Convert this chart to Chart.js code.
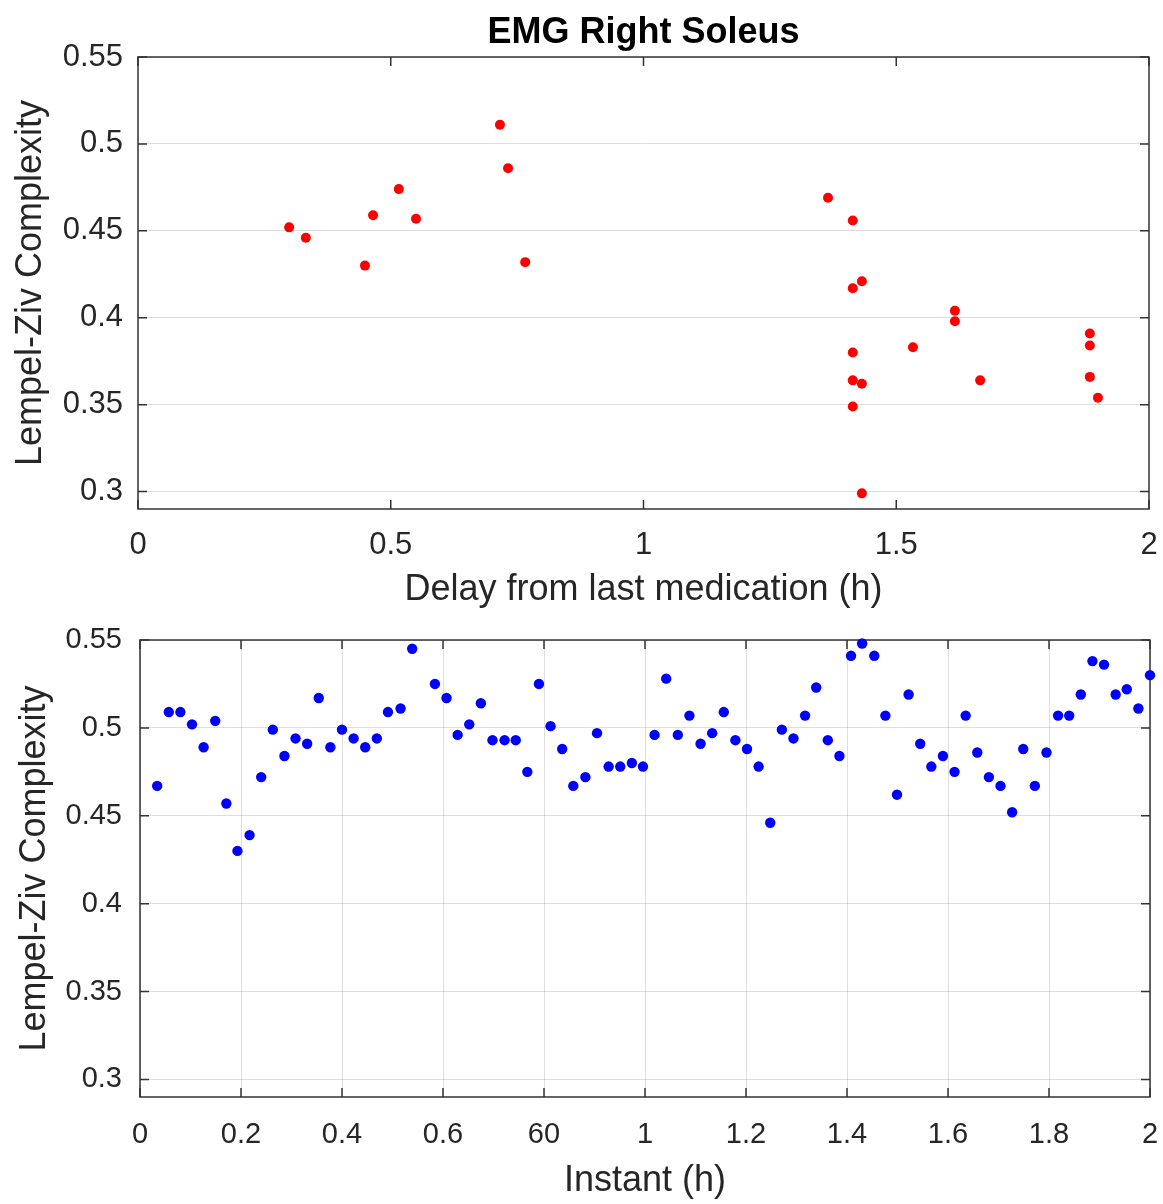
<!DOCTYPE html>
<html>
<head>
<meta charset="utf-8">
<script src="https://cdn.jsdelivr.net/npm/chart.js@4.4.1/dist/chart.umd.min.js"></script>
<style>
  html, body { margin: 0; padding: 0; background: #fff; overflow: hidden; }
  canvas { display: block; }
  #arriba { position: absolute; left: 0; top: 0; }
  #abajo { position: absolute; left: 0; top: 612px; }
</style>
</head>
<body>
<div id="arriba"><canvas id="grafico1" width="1163" height="612"></canvas></div>
<div id="abajo"><canvas id="grafico2" width="1163" height="592"></canvas></div>
<script>
// top panel: complexity vs delay from last medication
const delayH = [0.299, 0.332, 0.449, 0.465, 0.516, 0.550, 0.716, 0.732, 0.766,
  1.365, 1.414, 1.414, 1.432, 1.414, 1.414, 1.432, 1.414, 1.432,
  1.533, 1.616, 1.616, 1.666, 1.883, 1.883, 1.883, 1.899];
const lzDelay = [0.452, 0.446, 0.430, 0.459, 0.474, 0.457, 0.511, 0.486, 0.432,
  0.469, 0.456, 0.417, 0.421, 0.380, 0.364, 0.362, 0.349, 0.299,
  0.383, 0.404, 0.398, 0.364, 0.391, 0.384, 0.366, 0.354];

// bottom panel: complexity vs instant
const instantH = [0.034, 0.057, 0.080, 0.103, 0.126, 0.149, 0.171, 0.193, 0.217, 0.240,
  0.263, 0.286, 0.308, 0.331, 0.354, 0.377, 0.400, 0.423, 0.446, 0.469,
  0.491, 0.516, 0.539, 0.584, 0.607, 0.629, 0.652, 0.675, 0.698, 0.722,
  0.744, 0.767, 0.790, 0.813, 0.836, 0.858, 0.882, 0.905, 0.928, 0.951,
  0.974, 0.996, 1.019, 1.042, 1.065, 1.088, 1.110, 1.133, 1.156, 1.179,
  1.202, 1.225, 1.248, 1.271, 1.294, 1.317, 1.339, 1.362, 1.385, 1.408,
  1.430, 1.454, 1.476, 1.499, 1.522, 1.545, 1.567, 1.590, 1.613, 1.635,
  1.658, 1.681, 1.704, 1.727, 1.749, 1.772, 1.795, 1.818, 1.840, 1.863,
  1.886, 1.909, 1.932, 1.954, 1.977, 2.000];
const lzInstant = [0.467, 0.509, 0.509, 0.502, 0.489, 0.504, 0.457, 0.430, 0.439, 0.472,
  0.499, 0.484, 0.494, 0.491, 0.517, 0.489, 0.499, 0.494, 0.489, 0.494,
  0.509, 0.511, 0.545, 0.525, 0.517, 0.496, 0.502, 0.514, 0.493, 0.493,
  0.493, 0.475, 0.525, 0.501, 0.488, 0.467, 0.472, 0.497, 0.478, 0.478,
  0.480, 0.478, 0.496, 0.528, 0.496, 0.507, 0.491, 0.497, 0.509, 0.493,
  0.488, 0.478, 0.446, 0.499, 0.494, 0.507, 0.523, 0.493, 0.484, 0.541,
  0.548, 0.541, 0.507, 0.462, 0.519, 0.491, 0.478, 0.484, 0.475, 0.507,
  0.486, 0.472, 0.467, 0.452, 0.488, 0.467, 0.486, 0.507, 0.507, 0.519,
  0.538, 0.536, 0.519, 0.522, 0.511, 0.530];

// ticks
const yTicks = [0.3, 0.35, 0.4, 0.45, 0.5, 0.55];
const yLabels = ["0.3", "0.35", "0.4", "0.45", "0.5", "0.55"];
const xTicksTop = [0, 0.5, 1, 1.5, 2];
const xLabelsTop = ["0", "0.5", "1", "1.5", "2"];
const xTicksBottom = [0, 0.2, 0.4, 0.6, 0.8, 1, 1.2, 1.4, 1.6, 1.8, 2];
const xLabelsBottom = ["0", "0.2", "0.4", "0.6", "60", "1", "1.2", "1.4", "1.6", "1.8", "2"];

const titulo = "EMG Right Soleus";
const yTitulo = "Lempel-Ziv Complexity";

Chart.defaults.font.family = '"Liberation Sans", Arial, Helvetica, sans-serif';
Chart.defaults.color = "#262626";

const colorRejilla = "rgba(0,0,0,0.13)";

// matlab-like box with inward ticks, plus a title centred over the axes
const marcoMatlab = {
  id: "marcoMatlab",
  beforeDatasetsDraw(chart, args, opts) {
    const { ctx, chartArea: a, scales } = chart;
    ctx.save();
    ctx.strokeStyle = "#333333";
    ctx.lineWidth = 1.5;
    ctx.beginPath();
    scales.x.ticks.forEach(t => {
      const px = scales.x.getPixelForValue(t.value);
      ctx.moveTo(px, a.bottom); ctx.lineTo(px, a.bottom - 9);
      ctx.moveTo(px, a.top); ctx.lineTo(px, a.top + 9);
    });
    scales.y.ticks.forEach(t => {
      const py = scales.y.getPixelForValue(t.value);
      ctx.moveTo(a.left, py); ctx.lineTo(a.left + 9, py);
      ctx.moveTo(a.right, py); ctx.lineTo(a.right - 9, py);
    });
    ctx.stroke();
    ctx.strokeRect(a.left, a.top, a.right - a.left, a.bottom - a.top);
    if (opts.texto) {
      ctx.fillStyle = "#000";
      ctx.font = 'bold 36px "Liberation Sans", Arial, sans-serif';
      ctx.textAlign = "center";
      ctx.textBaseline = "alphabetic";
      ctx.fillText(opts.texto, (a.left + a.right) / 2, 43);
    }
    ctx.restore();
  }
};

// fixed axis boxes so the plot area lands where the original has it
const fijarX = alto => s => { s.height = alto; s.paddingLeft = 0; s.paddingRight = 0; };
const fijarY = ancho => s => { s.width = ancho; s.paddingTop = 0; s.paddingBottom = 0; };

const grafico1 = new Chart(document.getElementById("grafico1"), {
  type: "scatter",
  data: {
    datasets: [{
      data: delayH.map((x, i) => ({ x: x, y: lzDelay[i] })),
      backgroundColor: "#ff0000",
      borderWidth: 0,
      pointRadius: 5,
      clip: false
    }]
  },
  options: {
    responsive: false,
    animation: false,
    layout: { padding: { top: 57, right: 14, left: 0, bottom: 0 } },
    plugins: {
      legend: { display: false },
      tooltip: { enabled: false },
      marcoMatlab: { texto: titulo }
    },
    scales: {
      x: {
        type: "linear", min: 0, max: 2,
        afterBuildTicks: s => { s.ticks = xTicksTop.map(v => ({ value: v })); },
        afterFit: fijarX(103),
        ticks: { font: { size: 31 }, padding: 18, autoSkip: false, maxRotation: 0,
          callback: (v, i) => xLabelsTop[i] },
        grid: { display: false, drawTicks: false },
        border: { display: false },
        title: { display: true, text: "Delay from last medication (h)", font: { size: 36 }, padding: 0, color: "#262626" }
      },
      y: {
        min: 0.29, max: 0.55,
        afterBuildTicks: s => { s.ticks = yTicks.map(v => ({ value: v })); },
        afterFit: fijarY(138),
        ticks: { font: { size: 31 }, padding: 15, autoSkip: false,
          callback: (v, i) => yLabels[i] },
        grid: { color: colorRejilla, drawTicks: false },
        border: { display: false },
        title: { display: true, text: yTitulo, font: { size: 36 }, padding: { top: 9, bottom: 0 }, color: "#262626" }
      }
    }
  },
  plugins: [marcoMatlab]
});

const grafico2 = new Chart(document.getElementById("grafico2"), {
  type: "scatter",
  data: {
    datasets: [{
      data: instantH.map((x, i) => ({ x: x, y: lzInstant[i] })),
      backgroundColor: "#0000ff",
      borderWidth: 0,
      pointRadius: 5.2,
      clip: false
    }]
  },
  options: {
    responsive: false,
    animation: false,
    layout: { padding: { top: 28, right: 13, left: 0, bottom: 0 } },
    plugins: {
      legend: { display: false },
      tooltip: { enabled: false },
      marcoMatlab: {}
    },
    scales: {
      x: {
        type: "linear", min: 0, max: 2,
        afterBuildTicks: s => { s.ticks = xTicksBottom.map(v => ({ value: v })); },
        afterFit: fijarX(107),
        ticks: { font: { size: 29 }, padding: 21, autoSkip: false, maxRotation: 0,
          callback: (v, i) => xLabelsBottom[i] },
        grid: { color: colorRejilla, drawTicks: false },
        border: { display: false },
        title: { display: true, text: "Instant (h)", font: { size: 36 }, padding: { top: 0, bottom: 1 }, color: "#262626" }
      },
      y: {
        min: 0.29, max: 0.55,
        afterBuildTicks: s => { s.ticks = yTicks.map(v => ({ value: v })); },
        afterFit: fijarY(140),
        ticks: { font: { size: 29 }, padding: 18, autoSkip: false,
          callback: (v, i) => yLabels[i] },
        grid: { color: colorRejilla, drawTicks: false },
        border: { display: false },
        title: { display: true, text: yTitulo, font: { size: 36 }, padding: { top: 13, bottom: 0 }, color: "#262626" }
      }
    }
  },
  plugins: [marcoMatlab]
});
</script>
</body>
</html>
